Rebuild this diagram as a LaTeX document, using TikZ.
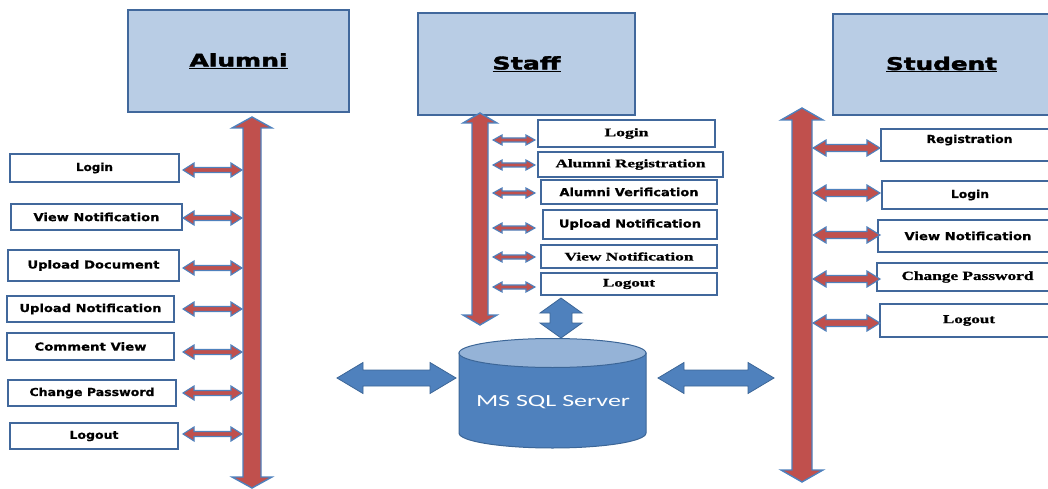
\documentclass[tikz,border=0pt]{standalone}
\usepackage{fontspec}
\usepackage{graphicx}
\setmainfont{Liberation Serif}
\newfontfamily\dvs[BoldFeatures={FakeBold=0.6}]{DejaVu Sans}
\newfontfamily\hdrf[BoldFeatures={FakeBold=2}]{DejaVu Sans}
\newfontfamily\lser[BoldFeatures={FakeBold=0.8}]{Liberation Serif}
\newfontfamily\carl{Carlito}
\usetikzlibrary{calc}
\definecolor{hdrfill}{HTML}{B9CDE5}
\definecolor{bordblue}{HTML}{41689C}
\definecolor{arrred}{HTML}{C0504D}
\definecolor{arrblue}{HTML}{4F81BD}
\definecolor{dbtop}{HTML}{95B3D7}
\definecolor{dbline}{HTML}{3C6697}
\newcommand\fitw[2]{\resizebox{#1pt}{\height}{#2}}
% horizontal double block arrow: style, left x coord, right x coord, y node, dy, shaft half, head half, head length
\newcommand\hdbl[8]{%
  \path[#1] let \p1=($(#2 |- #4)+(0,#5)$), \p2=($(#3 |- #4)+(0,#5)$) in
  (\x1,\y1) -- (\x1+#8pt,\y1+#7pt) -- (\x1+#8pt,\y1+#6pt) -- (\x2-#8pt,\y1+#6pt) --
  (\x2-#8pt,\y1+#7pt) -- (\x2,\y1) -- (\x2-#8pt,\y1-#7pt) -- (\x2-#8pt,\y1-#6pt) --
  (\x1+#8pt,\y1-#6pt) -- (\x1+#8pt,\y1-#7pt) -- cycle;}
% vertical double block arrow: style, top coord, bottom coord, shaft half, head half, head length
\newcommand\vdbl[6]{%
  \path[#1] let \p1=(#2), \p2=(#3) in
  (\x1,\y1) -- (\x1+#5pt,\y1-#6pt) -- (\x1+#4pt,\y1-#6pt) -- (\x1+#4pt,\y2+#6pt) --
  (\x1+#5pt,\y2+#6pt) -- (\x1,\y2) -- (\x1-#5pt,\y2+#6pt) -- (\x1-#4pt,\y2+#6pt) --
  (\x1-#4pt,\y1-#6pt) -- (\x1-#5pt,\y1-#6pt) -- cycle;}
\begin{document}
\begin{tikzpicture}[x=1pt,y=-1pt,
  hdrbox/.style={draw=bordblue, line width=1.8pt, fill=hdrfill, inner sep=0pt,
    font=\hdrf\bfseries\fontsize{17.5}{17.5}\selectfont},
  labbox/.style={draw=bordblue, line width=1.8pt, fill=white, inner sep=0pt},
  sanslab/.style={labbox, font=\dvs\bfseries\fontsize{11}{11}\selectfont},
  seriflab/.style={labbox, font=\lser\bfseries\fontsize{11.5}{11.5}\selectfont},
  redbig/.style={fill=arrred, draw=arrblue, line width=1.4pt},
  redsm/.style={fill=arrred, draw=arrblue, line width=1.1pt},
  bluearr/.style={fill=arrblue, draw=dbline, line width=0.8pt}]
\useasboundingbox (0,0) rectangle (1048,489);
\clip (0,0) rectangle (1048,489);

% header boxes
\node[hdrbox, minimum width=221pt, minimum height=102pt] (hA) at (238.5,61) {\fitw{98}{\underline{Alumni}}};
\node[hdrbox, minimum width=217pt, minimum height=102pt] (hS) at (526.5,64) {\fitw{68}{\underline{Staff}}};
\node[hdrbox, minimum width=217pt, minimum height=101pt] (hT) at (941.5,64.5) {\fitw{111}{\underline{Student}}};

% alumni boxes
\node[sanslab, minimum width=169pt, minimum height=28pt] (aLogin) at (94.5,168) {\fitw{37}{Login}};
\node[sanslab, minimum width=171pt, minimum height=26pt] (aView) at (96.5,217) {\fitw{126}{View Notification}};
\node[sanslab, minimum width=171pt, minimum height=31pt] (aUpDoc) at (93.5,265.5) {\fitw{132}{Upload Document}};
\node[sanslab, minimum width=167pt, minimum height=26pt] (aUpNot) at (90.5,309) {\fitw{142}{Upload Notification}};
\node[sanslab, minimum width=167pt, minimum height=27pt] (aComm) at (90.5,346.5) {\fitw{112}{Comment View}};
\node[sanslab, minimum width=168pt, minimum height=26pt] (aChg) at (92,393) {\fitw{125}{Change Password}};
\node[sanslab, minimum width=168pt, minimum height=26pt] (aOut) at (94,436) {\fitw{49}{Logout}};

% staff boxes
\node[seriflab, minimum width=177pt, minimum height=27pt] (sLogin) at (626.5,133.5) {\fitw{44}{Login}};
\node[seriflab, minimum width=185pt, minimum height=25pt] (sReg) at (630.5,164.5) {\fitw{150}{Alumni Registration}};
\node[sanslab, minimum width=176pt, minimum height=24pt] (sVer) at (629,192) {\fitw{139}{Alumni Verification}};
\node[sanslab, minimum width=174pt, minimum height=29pt] (sUp) at (630,224.5) {\fitw{142}{Upload Notification}};
\node[seriflab, minimum width=176pt, minimum height=23pt] (sView) at (629,256.5) {\fitw{129}{View Notification}};
\node[seriflab, minimum width=176pt, minimum height=22pt] (sOut) at (629,284) {\fitw{52}{Logout}};

% student boxes
\node[sanslab, minimum width=177pt, minimum height=32pt, text height=8pt, text depth=12pt] (tReg) at (969.5,145) {\fitw{86}{Registration}};
\node[sanslab, minimum width=176pt, minimum height=28pt] (tLogin) at (970,195) {\fitw{38}{Login}};
\node[sanslab, minimum width=180pt, minimum height=32pt] (tView) at (968,236) {\fitw{127}{View Notification}};
\node[seriflab, minimum width=181pt, minimum height=28pt, font=\lser\bfseries\fontsize{12.5}{12.5}\selectfont] (tChg) at (967.5,277) {\fitw{132}{Change Password}};
\node[seriflab, minimum width=178pt, minimum height=33pt, font=\lser\bfseries\fontsize{12}{12}\selectfont] (tOut) at (969,320.5) {\fitw{52}{Logout}};

% arrow end coordinates
\coordinate (aArrL) at (183,0); \coordinate (aArrR) at (242,0);
\coordinate (sArrL) at (493,0); \coordinate (sArrR) at (535,0);
\coordinate (tArrL) at (813,0); \coordinate (tArrR) at (880,0);
\coordinate (aTop) at (252,117); \coordinate (aBot) at (252,488);
\coordinate (sTop) at (480,113); \coordinate (sBot) at (480,325);
\coordinate (tTop) at (802,108); \coordinate (tBot) at (802,482);
\coordinate (bl1) at (337,378); \coordinate (bl2) at (456,378);
\coordinate (br1) at (658,378); \coordinate (br2) at (774,378);
\coordinate (dbTop) at (561,298); \coordinate (dbBot) at (561,338);

% small arrows
\hdbl{redsm}{aArrL}{aArrR}{aLogin}{2}{2.5}{7}{11}
\hdbl{redsm}{aArrL}{aArrR}{aView}{1}{2.5}{7}{11}
\hdbl{redsm}{aArrL}{aArrR}{aUpDoc}{2.5}{2.5}{7}{11}
\hdbl{redsm}{aArrL}{aArrR}{aUpNot}{0}{2.5}{7}{11}
\hdbl{redsm}{aArrL}{aArrR}{aComm}{5.5}{2.5}{7}{11}
\hdbl{redsm}{aArrL}{aArrR}{aChg}{0}{2.5}{7}{11}
\hdbl{redsm}{aArrL}{aArrR}{aOut}{-2}{2.5}{7}{11}

\hdbl{redsm}{sArrL}{sArrR}{sLogin}{6.5}{2}{5}{9}
\hdbl{redsm}{sArrL}{sArrR}{sReg}{0.5}{2}{5}{9}
\hdbl{redsm}{sArrL}{sArrR}{sVer}{1}{2}{5}{9}
\hdbl{redsm}{sArrL}{sArrR}{sUp}{3.5}{2}{5}{9}
\hdbl{redsm}{sArrL}{sArrR}{sView}{0.5}{2}{5}{9}
\hdbl{redsm}{sArrL}{sArrR}{sOut}{3}{2}{5}{9}

\hdbl{redsm}{tArrL}{tArrR}{tReg}{3}{3.5}{8}{13}
\hdbl{redsm}{tArrL}{tArrR}{tLogin}{-2}{3.5}{8}{13}
\hdbl{redsm}{tArrL}{tArrR}{tView}{-1}{3.5}{8}{13}
\hdbl{redsm}{tArrL}{tArrR}{tChg}{2}{3.5}{8}{13}
\hdbl{redsm}{tArrL}{tArrR}{tOut}{2.5}{3.5}{8}{13}

% main vertical arrows
\vdbl{redbig}{aTop}{aBot}{9}{20}{11}
\vdbl{redbig}{sTop}{sBot}{8}{17}{10}
\vdbl{redbig}{tTop}{tBot}{10}{21}{12}

% database
\filldraw[fill=arrblue, draw=dbline, line width=1pt] (459,353) -- (459,433)
  arc[start angle=180, end angle=0, x radius=93.5, y radius=15] -- (646,353) -- cycle;
\filldraw[fill=dbtop, draw=dbline, line width=1pt] (552.5,353) ellipse[x radius=93.5, y radius=14.5];
\node[text=white, inner sep=0pt, font=\carl\fontsize{17}{17}\selectfont] (db) at (553,402) {\fitw{154}{MS SQL Server}};

% blue arrows
\hdbl{bluearr}{bl1}{bl2}{bl1}{0}{8}{15.5}{26}
\hdbl{bluearr}{br1}{br2}{br1}{0}{8}{15.5}{26}
\vdbl{bluearr}{dbTop}{dbBot}{11}{21}{15}
\end{tikzpicture}
\end{document}
